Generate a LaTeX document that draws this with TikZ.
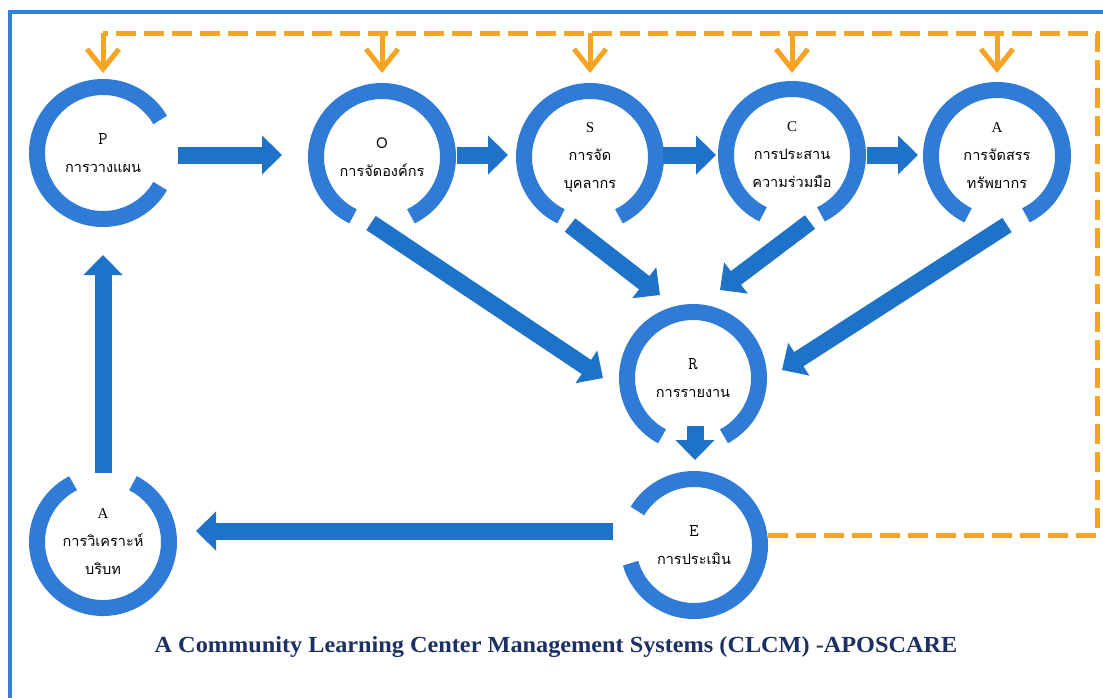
\documentclass[tikz,border=0pt]{standalone}
\usepackage{fontspec}
\setmainfont{Liberation Serif}
\newfontfamily\thaifont[Script=Thai]{Loma}
\usetikzlibrary{arrows.meta,calc}
\definecolor{ringblue}{RGB}{47,123,214}
\definecolor{arrblue}{RGB}{30,115,200}
\definecolor{orng}{RGB}{247,163,38}
\definecolor{navy}{RGB}{28,48,100}
\definecolor{frameblue}{RGB}{50,128,218}
\newcommand{\monlet}[1]{{\ttfamily\fontsize{18}{28}\selectfont #1}}
\newcommand{\serlet}[1]{{\rmfamily\fontsize{15}{28}\selectfont #1}}
\begin{document}
\begin{tikzpicture}[x=1pt,y=-1pt,
  stage/.style={circle, minimum size=148pt, inner sep=0pt, align=center,
    font=\thaifont\fontsize{14.5}{28}\selectfont},
  ring/.style={draw=ringblue, line width=16pt},
  barrow/.style={draw=arrblue, line width=17pt, -{Triangle[length=20pt,width=38pt]}},
  oline/.style={draw=orng, line width=5pt, dash pattern=on 20pt off 8pt},
  oarrow/.style={draw=orng, line width=5pt, -{Straight Barb[length=20pt,width=32pt]}},
]
\useasboundingbox (0,0) rectangle (1103,697);
\fill[white] (0,0) rectangle (1103,697);
% frame
\draw[frameblue, line width=4pt] (10,700) -- (10,12) -- (1106,12);

% stages
\node[stage] (P) at (103,153) {\monlet{P}\\การวางแผน};
\node[stage] (O) at (382,157) {{\thaifont\fontsize{15}{28}\selectfont O}\\การจัดองค์กร};
\node[stage] (S) at (590,157) {\serlet{S}\\การจัด\\บุคลากร};
\node[stage] (C) at (792,155) {\serlet{C}\\การประสาน\\ความร่วมมือ};
\node[stage] (A) at (997,156) {\serlet{A}\\การจัดสรร\\ทรัพยากร};
\node[stage] (R) at (693,378) {\monlet{R}\\การรายงาน};
\node[stage] (E) at (694,545) {\monlet{E}\\การประเมิน};
\node[stage] (A2) at (103,542) {\serlet{A}\\การวิเคราะห์\\บริบท};

% rings
\draw[ring] (P) ++(30:66) arc[start angle=30, end angle=330, radius=66];
\foreach \n in {O,S,C,A}
  \draw[ring] (\n) ++(116:66) arc[start angle=116, end angle=424, radius=66];
\draw[ring] (R) ++(118:66) arc[start angle=118, end angle=422, radius=66];
\draw[ring] (E) ++(211:66) arc[start angle=211, end angle=524, radius=66];
\draw[ring] (A2) ++(297:66) arc[start angle=297, end angle=603, radius=66];

% blue arrows
\draw[barrow] ($(P)+(75,2)$) -- ($(O)+(-100,-2)$);
\draw[barrow] ($(O)+(75,-2)$) -- ($(S)+(-82,-2)$);
\draw[barrow] ($(S)+(73,-2)$) -- ($(C)+(-76,0)$);
\draw[barrow] ($(C)+(75,0)$) -- ($(A)+(-79,-1)$);
\draw[barrow] ($(O)+(-11,66)$) -- ($(R)+(-90,0)$);
\draw[barrow] ($(S)+(-20,68)$) -- ($(R)+(-33,-83)$);
\draw[barrow] ($(C)+(18,67)$) -- ($(R)+(27,-88)$);
\draw[barrow] ($(A)+(10,69)$) -- ($(R)+(89,-8)$);
\draw[barrow] ($(R)+(2,48)$) -- ($(E)+(1,-85)$);
\draw[barrow] ($(E)+(-81,-14)$) -- ($(A2)+(93,-11)$);
\draw[barrow] ($(A2)+(0,-69)$) -- ($(P)+(0,102)$);

% orange feedback
\coordinate (otl) at (103,33);
\coordinate (otr) at (1097,33);
\coordinate (obr) at (1097,535);
\coordinate (otip) at (0,73);
\draw[oline] (E.east |- obr) -- (obr) -- (otr) -- (otl);
\foreach \n in {P,O,S,C,A}
  \draw[oarrow] (\n |- otl) -- (\n |- otip);

% title
\node[font=\bfseries\fontsize{23}{26}\selectfont, text=navy] (title) at (556,647)
  {\scalebox{1.055}[1]{A Community Learning Center Management Systems (CLCM) -APOSCARE}};
\end{tikzpicture}
\end{document}
